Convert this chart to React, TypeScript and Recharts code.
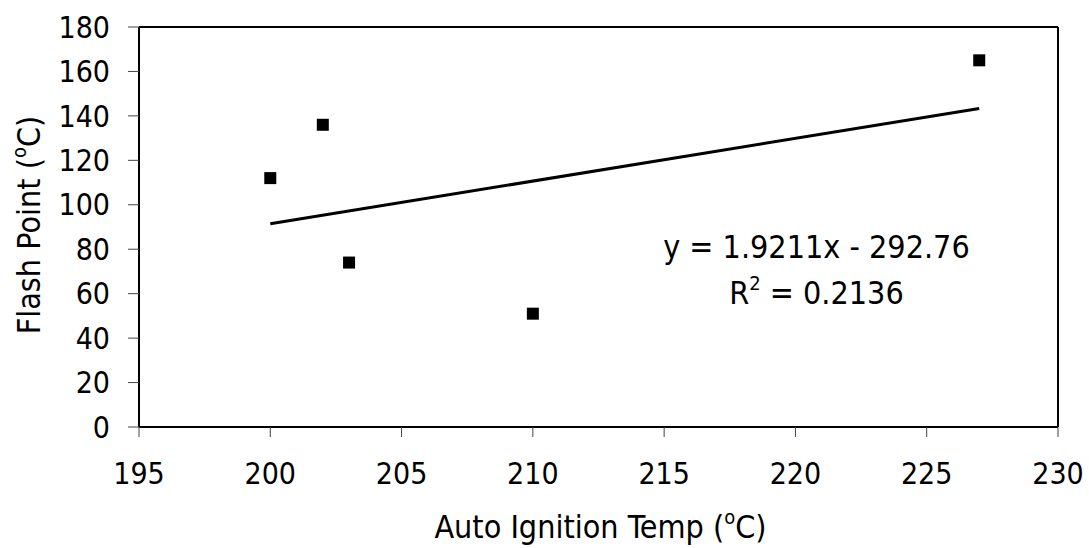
import { Label, ReferenceLine, Scatter, ScatterChart, XAxis, YAxis } from 'recharts';

// Auto ignition temperature vs flash point
const ignitionTemps = [200, 202, 203, 210, 227];
const flashPoints = [112, 136, 74, 51, 165];

const xTicks = [195, 200, 205, 210, 215, 220, 225, 230];
const yTicks = [0, 20, 40, 60, 80, 100, 120, 140, 160, 180];

// Linear trend line shown in the chart
const trendSlope = 1.9211;
const trendIntercept = -292.76;
const trendRange = [200, 227];
const equationText = 'y = 1.9211x - 292.76';
const rSquaredText = ' = 0.2136';

const points = ignitionTemps.map((x, i) => ({ x, y: flashPoints[i] }));
const trend = trendRange.map((x) => ({ x, y: trendSlope * x + trendIntercept }));

const FONT = "'DejaVu Sans Condensed', 'DejaVu Sans', sans-serif";
const tickStyle = { fontSize: 30, fill: '#000', fontFamily: FONT, fontStretch: 'condensed' };
const titleStyle = { ...tickStyle, fontSize: 32 };

function SquareMarker(props: any) {
  const { cx, cy } = props;
  if (cx == null || cy == null) return <g />;
  return <rect x={cx - 6} y={cy - 6} width={12} height={12} fill="#000" />;
}

function XTitle(props: any) {
  const vb = props.viewBox || {};
  const cx = vb.x + vb.width / 2 + 2;
  return (
    <text x={cx} y={vb.y + 111} textAnchor="middle" style={titleStyle}>
      Auto Ignition Temp (
      <tspan fontSize={20} dy={-14}>o</tspan>
      <tspan dy={14}>C)</tspan>
    </text>
  );
}

function YTitle(props: any) {
  const vb = props.viewBox || {};
  const cy = vb.y + vb.height / 2 - 2;
  const cx = 40;
  return (
    <text x={cx} y={cy} textAnchor="middle" transform={`rotate(-90, ${cx}, ${cy})`} style={titleStyle}>
      Flash Point (
      <tspan fontSize={20} dy={-14}>o</tspan>
      <tspan dy={14}>C)</tspan>
    </text>
  );
}

function Equation(props: any) {
  const vb = props.viewBox || {};
  const x = vb.x;
  const y = vb.y;
  return (
    <text textAnchor="middle" style={titleStyle}>
      <tspan x={x} y={y}>{equationText}</tspan>
      <tspan x={x} y={y + 46}>R</tspan>
      <tspan fontSize={20} dy={-14}>2</tspan>
      <tspan dy={14}>{rSquaredText}</tspan>
    </text>
  );
}

export default function App() {
  return (
    <div style={{ position: 'absolute', left: 0, top: 0, width: 1089, height: 548, background: '#fff' }}>
      <ScatterChart width={1089} height={548} margin={{ top: 27, right: 31, bottom: 0, left: 0 }}>
        <XAxis
          type="number"
          dataKey="x"
          domain={[195, 230]}
          ticks={xTicks}
          allowDataOverflow
          height={121}
          axisLine={{ stroke: '#000', strokeWidth: 2 }}
          tickLine={{ stroke: '#444', strokeWidth: 1 }}
          tickSize={10}
          tickMargin={26}
          tick={tickStyle}
        >
          <Label content={<XTitle />} />
        </XAxis>
        <YAxis
          type="number"
          dataKey="y"
          domain={[0, 180]}
          ticks={yTicks}
          allowDataOverflow
          width={139}
          axisLine={{ stroke: '#000', strokeWidth: 2 }}
          tickLine={{ stroke: '#444', strokeWidth: 1 }}
          tickSize={11}
          tickMargin={18}
          tick={tickStyle}
        >
          <Label content={<YTitle />} />
        </YAxis>
        <ReferenceLine y={180} stroke="#000" strokeWidth={2} />
        <ReferenceLine x={230} stroke="#000" strokeWidth={2} />
        <ReferenceLine
          segment={[{ x: 220.8, y: 76 }, { x: 220.8, y: 76 }]}
          stroke="none"
          label={<Equation />}
        />
        <Scatter
          data={trend}
          line={{ stroke: '#000', strokeWidth: 3 }}
          shape={() => <g />}
          isAnimationActive={false}
        />
        <Scatter data={points} fill="#000" shape={<SquareMarker />} isAnimationActive={false} />
      </ScatterChart>
    </div>
  );
}
